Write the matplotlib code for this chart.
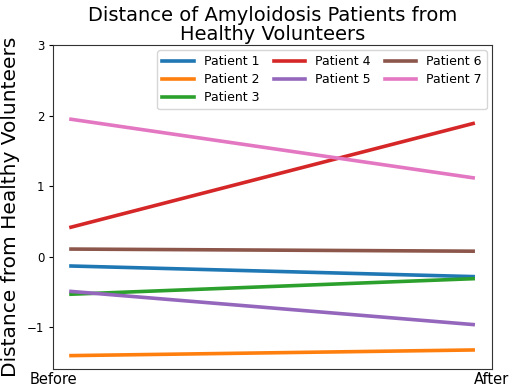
import matplotlib
matplotlib.use("Agg")
import matplotlib.pyplot as plt

# values
patients = ["Patient 1", "Patient 2", "Patient 3", "Patient 4",
            "Patient 5", "Patient 6", "Patient 7"]
before = [-0.13, -1.40, -0.53, 0.42, -0.49, 0.11, 1.95]
after = [-0.28, -1.32, -0.31, 1.89, -0.96, 0.08, 1.12]
time_labels = ["Before", "After"]

fig = plt.figure(figsize=(5.1, 3.86), dpi=100)
ax = fig.add_axes([0.1045, 0.044, 0.8595, 0.839])

for name, b, a in zip(patients, before, after):
    ax.plot([0, 1], [b, a], linewidth=2.6, label=name)

ax.set_xlim(-0.044, 1.046)
ax.set_ylim(-1.59, 3)
ax.set_xticks([-0.044, 1.046])
ax.set_xticklabels(time_labels, fontsize=10.5)
ax.tick_params(axis="x", length=0, pad=2)
ax.set_yticks([-1, 0, 1, 2, 3])
ax.tick_params(axis="y", labelsize=8.5, length=3)
for spine in ax.spines.values():
    spine.set_color("#333333")

ax.set_ylabel("Distance from Healthy Volunteers", fontsize=14.5, labelpad=5)
ax.set_title("Distance of Amyloidosis Patients from\nHealthy Volunteers",
             fontsize=14, linespacing=0.95, pad=4)
ax.legend(ncol=3, loc="upper right", fontsize=9, handlelength=2.5,
          columnspacing=1.15, labelspacing=0.4, borderaxespad=0.4,
          bbox_to_anchor=(1.0, 1.0))

fig.savefig("out.png", dpi=100)
